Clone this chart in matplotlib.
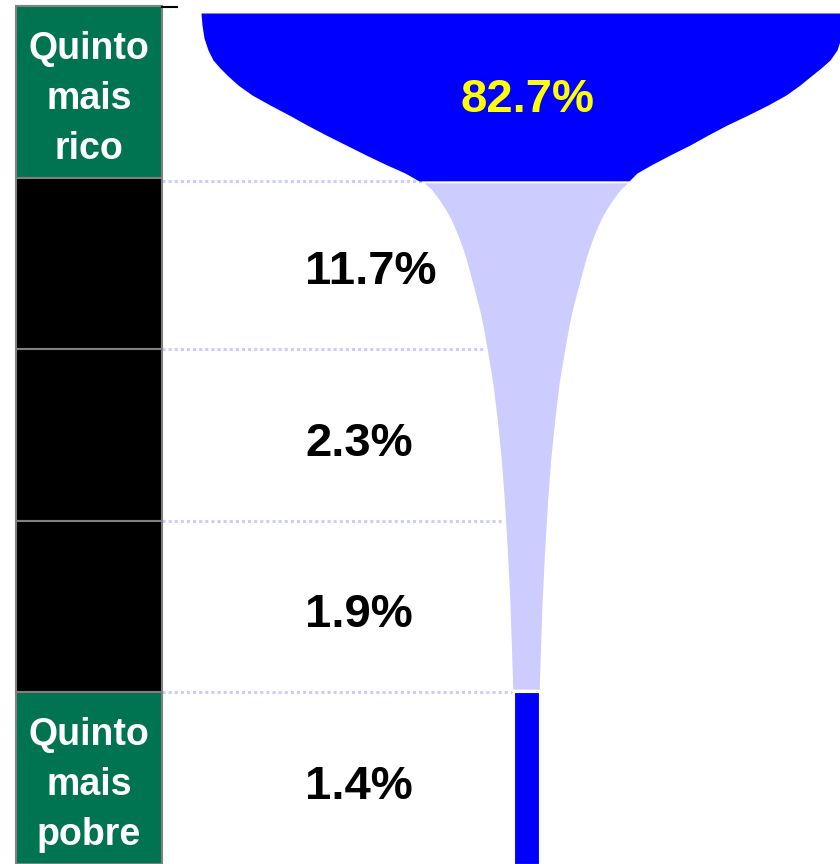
import numpy as np
import matplotlib
matplotlib.use("Agg")
import matplotlib.pyplot as plt

plt.rcParams['font.family'] = ['Liberation Sans', 'DejaVu Sans']

# share of income held by each fifth of the population, richest first
quintos = ["Quinto\nmais\nrico", "", "", "", "Quinto\nmais\npobre"]
renda = [82.7, 11.7, 2.3, 1.9, 1.4]
rotulos = ["82.7%", "11.7%", "2.3%", "1.9%", "1.4%"]

# outline of the glass (pixels from the top-left)
bowl_y = [13, 25, 38, 50, 60, 68, 76, 85, 95, 105, 115, 125, 135, 145, 155, 165, 173, 181]
bowl_left = [201, 202, 204, 208, 213, 220, 228, 238, 252, 270, 289, 307, 326, 346, 366, 387, 405, 419]
bowl_right = [846, 844, 841, 837, 830, 821, 811, 800, 786, 768, 748, 727, 708, 690, 670, 651, 637, 629]
stem_y = [182, 190, 200, 210, 220, 235, 250, 265, 280, 297, 313, 330, 350, 383, 420, 460, 500, 550, 600, 650, 690]
stem_half = [104, 95, 87.5, 81, 75.5, 69, 63.5, 59, 55, 50.5, 46.5, 43, 39.5, 34, 29.5, 25.5, 22.5, 19.5, 17, 15.3, 14]
stem_mid = 526

top_px = 6
band_px = 171.6


def band(p):
    return (np.asarray(p, dtype=float) - top_px) / band_px


stem_left = stem_mid - np.asarray(stem_half)
stem_right = stem_mid + np.asarray(stem_half)

fig = plt.figure(figsize=(8.4, 8.64), dpi=100)
ax = fig.add_axes([0, 0, 1, 1])
ax.set_xlim(0, 840)
ax.set_ylim(5, -top_px / band_px)
ax.axis('off')

n = len(renda)
pos = np.arange(n) + 0.5
cores = ['#007350' if q else 'black' for q in quintos]

# boxes on the left, one per fifth
ax.barh(pos, 146, left=16, height=1, color=cores, edgecolor='#808080', linewidth=1.5, zorder=2)
for y, q in zip(pos, quintos):
    if q:
        ax.text(89, y + 0.04, q, ha='center', va='center', color='white',
                fontsize=27, fontweight='bold', linespacing=1.5, zorder=5)
ax.plot([162, 177], [band(7)] * 2, color='black', lw=1.5, zorder=3)

# dotted guide lines between the fifths
for b in range(1, n):
    yb = max(b, band(181)[()])
    xe = np.interp(yb, band(stem_y), stem_left)
    ax.plot([162, xe], [yb, yb], color='#CCCCFF', lw=2.2, ls=(0, (1, 1)), zorder=1)

# the glass
ax.fill_betweenx(band(bowl_y), bowl_left, bowl_right, color='#0000FF', lw=0, zorder=3)
ax.fill_betweenx(band(stem_y), stem_left, stem_right, facecolor='#CCCCFF',
                 edgecolor='white', lw=1.2, zorder=3)
ax.bar(stem_mid, 1, width=25, bottom=n - 1, color='#0000FF', edgecolor='white', lw=0.8, zorder=3)

# percentages
for i, (y, r) in enumerate(zip(pos, rotulos)):
    if i == 0:
        ax.text(528, y + 0.05, r, ha='center', va='center', color='#FFFF00',
                fontsize=34, fontweight='bold', zorder=5)
    else:
        ax.text(305, y + 0.05, r, ha='left', va='center', color='black',
                fontsize=34, fontweight='bold', zorder=5)

fig.savefig('out.png', dpi=100)
